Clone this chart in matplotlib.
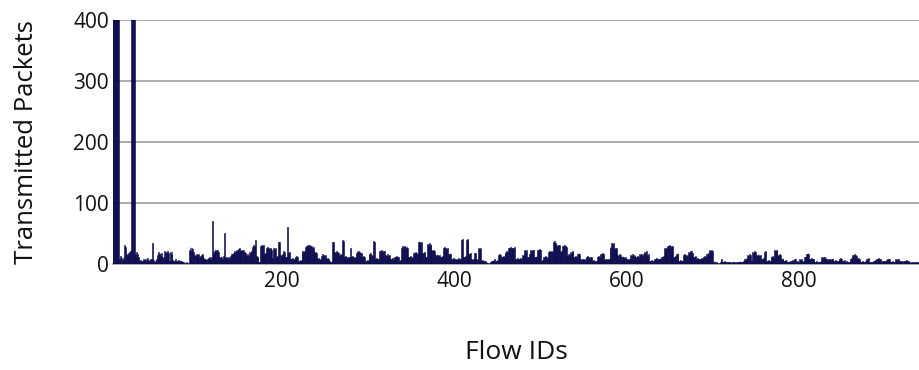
import numpy as np
import matplotlib
matplotlib.use('Agg')
import matplotlib.pyplot as plt

# Transmitted packets per flow (flows 1..940)
packets_001_100 = [450, 430, 520, 480, 460, 410, 440, 470, 430, 420,
                   8, 14, 10, 5, 12, 9, 31, 28, 17, 15,
                   18, 12, 20, 22, 450, 480, 430, 420, 18, 15,
                   20, 16, 12, 5, 7, 4, 6, 6, 9, 7,
                   8, 5, 8, 10, 6, 7, 9, 8, 34, 5,
                   7, 4, 6, 8, 15, 20, 17, 19, 14, 18,
                   12, 10, 21, 18, 8, 20, 22, 19, 6, 20,
                   17, 21, 7, 5, 6, 8, 5, 6, 4, 7,
                   5, 6, 5, 4, 3, 2, 1, 2, 3, 2,
                   1, 24, 28, 22, 26, 25, 20, 15, 14, 16]
packets_101_200 = [13, 15, 16, 12, 14, 15, 17, 13, 10, 8,
                   9, 7, 9, 10, 8, 11, 9, 12, 70, 18,
                   22, 25, 21, 24, 23, 20, 12, 10, 13, 11,
                   9, 14, 51, 10, 12, 11, 9, 12, 10, 14,
                   16, 17, 19, 18, 21, 20, 23, 22, 25, 26,
                   24, 22, 24, 21, 23, 20, 18, 15, 14, 16,
                   13, 20, 19, 21, 18, 28, 31, 30, 39, 13,
                   11, 12, 4, 3, 30, 32, 29, 31, 17, 16,
                   18, 26, 28, 27, 25, 27, 26, 24, 10, 27,
                   25, 26, 12, 11, 13, 36, 37, 15, 14, 16]
packets_201_300 = [15, 21, 20, 12, 11, 61, 19, 18, 20, 9,
                   8, 10, 9, 7, 12, 11, 13, 12, 6, 5,
                   7, 6, 19, 21, 20, 22, 28, 30, 31, 29,
                   30, 32, 30, 29, 27, 28, 21, 19, 20, 18,
                   9, 10, 8, 9, 7, 14, 16, 15, 13, 15,
                   9, 8, 10, 9, 5, 4, 3, 4, 37, 36,
                   20, 19, 21, 20, 18, 15, 14, 16, 15, 39,
                   38, 12, 11, 13, 12, 10, 12, 11, 26, 12,
                   11, 13, 12, 10, 12, 19, 21, 20, 22, 20,
                   19, 18, 12, 11, 13, 12, 6, 5, 7, 6]
packets_301_400 = [17, 16, 18, 15, 14, 38, 37, 9, 8, 10,
                   9, 8, 22, 21, 23, 22, 20, 22, 21, 15,
                   14, 16, 15, 13, 15, 9, 8, 10, 9, 7,
                   12, 11, 13, 12, 12, 6, 5, 7, 27, 29,
                   28, 30, 28, 27, 29, 26, 12, 11, 13, 12,
                   10, 12, 19, 18, 20, 19, 17, 36, 38, 37,
                   35, 37, 19, 18, 20, 19, 12, 11, 33, 32,
                   34, 31, 33, 23, 22, 24, 21, 15, 14, 16,
                   15, 13, 15, 12, 11, 13, 27, 26, 28, 27,
                   25, 27, 17, 16, 18, 17, 9, 8, 10, 9]
packets_401_500 = [9, 8, 7, 9, 10, 8, 9, 40, 39, 41,
                   12, 11, 13, 40, 41, 39, 17, 16, 18, 8,
                   7, 9, 8, 19, 18, 8, 7, 26, 25, 27,
                   6, 5, 7, 6, 5, 6, 2, 3, 2, 1,
                   2, 3, 6, 5, 7, 6, 8, 6, 5, 7,
                   15, 14, 16, 15, 12, 11, 13, 12, 20, 19,
                   21, 20, 27, 26, 28, 27, 25, 27, 26, 28,
                   9, 8, 10, 9, 8, 9, 10, 9, 15, 14,
                   16, 23, 22, 24, 12, 11, 17, 16, 23, 22,
                   24, 23, 12, 11, 13, 12, 24, 23, 25, 24]
packets_501_600 = [6, 5, 7, 12, 11, 13, 12, 10, 20, 19,
                   21, 20, 22, 20, 36, 38, 37, 35, 31, 30,
                   32, 31, 20, 19, 21, 30, 29, 31, 30, 28,
                   15, 14, 16, 15, 20, 19, 21, 20, 12, 11,
                   13, 12, 17, 16, 18, 17, 8, 7, 9, 8,
                   7, 8, 12, 11, 13, 12, 10, 12, 11, 6,
                   5, 7, 6, 5, 6, 12, 11, 13, 12, 17,
                   16, 18, 17, 8, 7, 9, 8, 7, 8, 9,
                   28, 27, 34, 33, 35, 26, 25, 27, 26, 15,
                   14, 16, 15, 12, 11, 13, 12, 10, 12, 8]
packets_601_700 = [8, 7, 9, 8, 15, 14, 16, 15, 13, 15,
                   12, 11, 13, 12, 16, 15, 17, 16, 14, 16,
                   20, 19, 21, 15, 14, 16, 6, 5, 7, 6,
                   5, 6, 9, 8, 10, 9, 8, 9, 10, 9,
                   12, 11, 13, 26, 25, 27, 26, 30, 29, 31,
                   30, 28, 30, 29, 12, 11, 13, 17, 16, 18,
                   6, 5, 7, 6, 5, 15, 14, 16, 15, 13,
                   15, 20, 19, 21, 20, 22, 19, 12, 11, 13,
                   9, 8, 10, 9, 8, 9, 10, 9, 12, 11,
                   13, 12, 17, 16, 18, 17, 23, 22, 24, 21]
packets_701_800 = [4, 3, 5, 2, 3, 2, 1, 2, 3, 9,
                   8, 4, 3, 5, 4, 3, 3, 2, 3, 4,
                   3, 2, 3, 3, 4, 3, 2, 3, 3, 4,
                   3, 5, 4, 3, 4, 5, 9, 8, 10, 9,
                   15, 14, 16, 15, 6, 5, 20, 19, 21, 20,
                   15, 14, 16, 15, 13, 15, 9, 8, 10, 20,
                   19, 21, 6, 5, 7, 6, 5, 12, 11, 13,
                   12, 23, 22, 24, 23, 15, 14, 16, 15, 9,
                   8, 10, 6, 5, 7, 6, 4, 3, 5, 4,
                   6, 5, 7, 6, 9, 8, 4, 3, 5, 4]
packets_801_900 = [8, 7, 9, 5, 4, 6, 12, 11, 17, 16,
                   18, 17, 9, 8, 10, 9, 8, 9, 4, 3,
                   5, 4, 3, 4, 5, 4, 11, 10, 12, 11,
                   9, 11, 8, 7, 9, 8, 7, 8, 9, 8,
                   6, 5, 7, 6, 5, 6, 9, 8, 10, 9,
                   6, 5, 7, 4, 3, 5, 4, 3, 4, 9,
                   8, 10, 15, 14, 16, 15, 13, 9, 8, 10,
                   9, 4, 3, 5, 4, 3, 4, 5, 9, 8,
                   10, 3, 2, 3, 4, 3, 6, 5, 7, 6,
                   9, 8, 10, 9, 8, 4, 3, 5, 6, 5]
packets_901_940 = [6, 7, 8, 7, 9, 8, 4, 3, 5, 4,
                   3, 4, 8, 7, 9, 8, 5, 4, 6, 5,
                   4, 5, 6, 5, 7, 6, 5, 6, 3, 2,
                   3, 4, 3, 2, 3, 3, 4, 3, 2, 3]

packets = np.array(packets_001_100 + packets_101_200 + packets_201_300 +
                   packets_301_400 + packets_401_500 + packets_501_600 +
                   packets_601_700 + packets_701_800 + packets_801_900 +
                   packets_901_940)
flow_ids = np.arange(1, len(packets) + 1)

plt.rcParams['font.family'] = ['Open Sans', 'DejaVu Sans']

fig = plt.figure(figsize=(9.19, 3.70), dpi=100)
ax = fig.add_axes([0.123, 0.286, 0.877, 0.66])

bar_color = '#08084c'
ax.bar(flow_ids, packets, width=1.0, color=bar_color, edgecolor=bar_color,
       linewidth=0.4, zorder=3)

ax.set_ylim(0, 400)
ax.set_xlim(3.5, 940)
ax.set_yticks([0, 100, 200, 300, 400])
ax.set_xticks([200, 400, 600, 800])
ax.yaxis.grid(True, color='#a4a4ac', linewidth=1.3)
ax.set_axisbelow(True)

for side in ['top', 'right', 'left']:
    ax.spines[side].set_visible(False)
ax.spines['bottom'].set_color('#a4a4ac')
ax.spines['bottom'].set_linewidth(1.3)
ax.tick_params(length=0, labelsize=15, pad=5, labelcolor='#111111')
ax.tick_params(axis='y', pad=3)

ax.set_xlabel('Flow IDs', fontsize=19, color='#111111')
ax.set_ylabel('Transmitted Packets', fontsize=18.5, color='#111111')
ax.xaxis.set_label_coords(0.5, -0.31)
ax.yaxis.set_label_coords(-0.092, 0.5)

fig.savefig('out.png', dpi=100)
plt.close(fig)
